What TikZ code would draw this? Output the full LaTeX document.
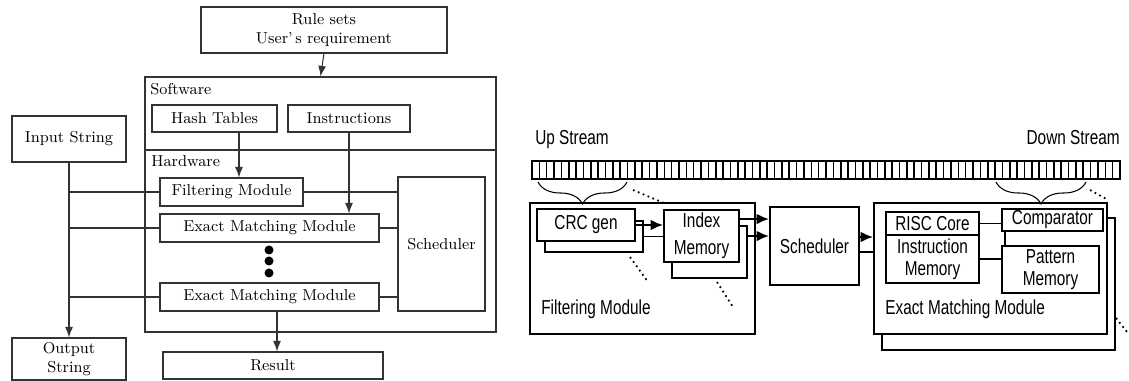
\documentclass[tikz,border=0pt]{standalone}
\usepackage{fontspec}
\newfontfamily\gothic[FakeStretch=0.76]{Liberation Sans}
\usetikzlibrary{fit,arrows.meta,decorations.pathreplacing}

\begin{document}
\begin{tikzpicture}[x=0.02cm, y=-0.02cm,
    lbox/.style={draw=black!80, line width=0.6pt, inner sep=0pt},
    ltext/.style={inner sep=0pt, align=center, font=\fontsize{9}{11}\selectfont},
    lline/.style={draw=black!80, line width=0.6pt},
    larr/.style={lline, -{Latex[length=6pt,width=4.5pt]}},
    rbox/.style={draw, line width=1.1pt, fill=white, inner sep=0pt},
    rtext/.style={inner sep=0pt, align=center, font=\gothic\fontsize{11.5}{12.5}\selectfont},
    rline/.style={line width=1.1pt},
    rarr/.style={rline, -{Latex[length=7pt,width=6pt]}},
    brc/.style={line width=0.6pt, decorate, decoration={brace, mirror, amplitude=0.44cm}},
    ]
    \useasboundingbox (0,0) rectangle (1129,381);

    \node[lbox, fit={(201,7) (447,53)}, label={[ltext]center:Rule sets\\User’\,s requirement}] (rules) {};
    \node[lbox, fit={(145,77) (496,332)}] (swhw) {};
    \node[ltext, anchor=base west] (sw) at (150,95) {Software};
    \node[ltext, anchor=base west] (hw) at (151,167) {Hardware};
    \node[lbox, fit={(152,105) (277,132)}, label={[ltext]center:Hash Tables}] (hash) {};
    \node[lbox, fit={(288,105) (410,132)}, label={[ltext]center:Instructions}] (instr) {};
    \node[lbox, fit={(12,116) (126,162)}, label={[ltext]center:Input String}] (input) {};
    \node[lbox, fit={(12,338) (126,380)}, label={[ltext]center:Output\\String}] (output) {};
    \node[lbox, fit={(160,178) (303,206)}, label={[ltext]center:Filtering Module}] (fm) {};
    \node[lbox, fit={(160,214) (379,242)}, label={[ltext]center:Exact Matching Module}] (emma) {};
    \node[lbox, fit={(160,283) (379,311)}, label={[ltext]center:Exact Matching Module}] (emmb) {};
    \node[lbox, fit={(398,177) (485,311)}, label={[ltext]center:Scheduler}] (schl) {};
    \node[lbox, fit={(163,352) (383,379)}, label={[ltext]center:Result}] (result) {};

    \draw[lline] (swhw.west |- 0,150) -- (swhw.east |- 0,150);

    \fill (269,250) circle(4.5);
    \fill (269,261) circle(4.5);
    \fill (269,273) circle(4.5);

    \coordinate (ht) at ([xshift=0.49cm]hash.south);
    \coordinate (er) at ([xshift=0.15cm]emmb.south);
    \draw[larr] (rules.south) -- (swhw.north);
    \draw[larr] (ht) -- (ht |- fm.north);
    \draw[larr] (instr.south) -- (instr.south |- emma.north);
    \draw[larr] (input.south) -- (output.north);
    \draw[larr] (er) -- (er |- result.north);

    \draw[lline] (fm.west -| input.south) -- (fm.west);
    \draw[lline] (emma.west -| input.south) -- (emma.west);
    \draw[lline] (emmb.west -| input.south) -- (emmb.west);
    \draw[lline] (fm.east) -- (fm.east -| schl.west);
    \draw[lline] (emma.east) -- (emma.east -| schl.west);
    \draw[lline] (emmb.east) -- (emmb.east -| schl.west);

    \node[rtext, anchor=base west] (up) at (535,145) {Up Stream};
    \node[rtext, anchor=base east] (down) at (1120,145) {Down Stream};

    \draw[line width=1.3pt] (532,161) rectangle (1120,179);
    \foreach \i in {1,...,79}
        \draw[line width=0.9pt] ({532+\i*7.35},161) -- ({532+\i*7.35},179);

    \node[rbox, fit={(530,203) (755,334)}] (fmod) {};
    \node[rtext, anchor=base west] (fmlab) at (541,315) {Filtering Module};
    \node[rbox, fit={(545,221) (643,252)}] (crcb) {};
    \node[rbox, fit={(537,209) (635,241)}, label={[rtext]center:CRC gen}] (crc) {};
    \node[rbox, fit={(672,226) (747,278)}] (idxb) {};
    \node[rbox, fit={(664,210) (739,262)}, label={[rtext]center:Index\\[3pt]Memory}] (idx) {};
    \node[rbox, fit={(770,207) (859,285)}, label={[rtext]center:Scheduler}] (sched) {};

    \node[rbox, fit={(882,218) (1115,350)}] (emmrb) {};
    \node[rbox, fit={(874,203) (1107,334)}] (emmr) {};
    \node[rtext, anchor=base west] (emlab) at (885,315) {Exact Matching Module};
    \node[rbox, fit={(886,212) (979,235)}, label={[rtext]center:RISC Core}] (risc) {};
    \node[rbox, fit={(886,235) (979,283)}, label={[rtext]center:Instruction\\Memory}] (imem) {};
    \node[rbox, fit={(1002,209) (1103,231)}, label={[rtext]center:Comparator}] (comp) {};
    \node[rbox, fit={(1002,246) (1099,293)}, label={[rtext]center:Pattern\\Memory}] (pmem) {};

    \draw[rarr] (crc.east) -- (crc.east -| idx.west);
    \draw[rline] (crcb.east) -- (crcb.east -| idx.west);
    \draw[rarr] ([yshift=-0.2cm]idx.north east) -- ([yshift=-0.2cm]idx.north east -| sched.west);
    \draw[rarr] ([yshift=-0.22cm]idxb.north east) -- ([yshift=-0.22cm]idxb.north east -| sched.west);
    \draw[rarr] ([yshift=0.18cm]sched.east) -- ([yshift=0.18cm]sched.east -| emmr.west);
    \draw[rline] ([yshift=-0.12cm]sched.east) -- ([yshift=-0.12cm]sched.east -| emmr.west);
    \draw[rline] (risc.east) -- (risc.east -| comp.west);
    \draw[rline] (imem.east) -- (imem.east -| pmem.west);
    \draw[rline] ([xshift=0.08cm]comp.south west) -- ([xshift=0.08cm]pmem.north west);

    \draw[brc] (538,182) -- (627,182);
    \draw[brc] (996,182) -- (1086,182);

    \draw[dotted, line width=1pt] (633,190) -- (664,203);
    \draw[dotted, line width=1pt] (630,257) -- (648,282);
    \draw[dotted, line width=1pt] (717,282) -- (733,307);
    \draw[dotted, line width=1pt] (1090,190) -- (1108,200);
    \draw[dotted, line width=1pt] (1116,318) -- (1127,332);
\end{tikzpicture}
\end{document}
